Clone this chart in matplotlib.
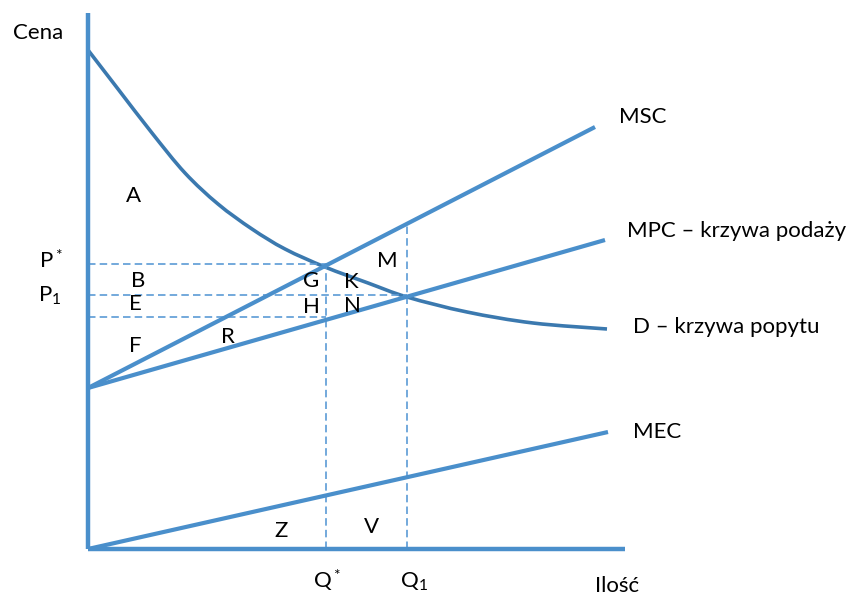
import matplotlib.pyplot as plt
from matplotlib.path import Path
from matplotlib.patches import PathPatch

plt.rcParams['font.family'] = ['Lato', 'DejaVu Sans']
plt.rcParams['mathtext.fontset'] = 'custom'
plt.rcParams['mathtext.rm'] = 'Lato'
plt.rcParams['mathtext.it'] = 'Lato'
plt.rcParams['mathtext.default'] = 'regular'

# quantity / price units
q_max = 537
p_max = 536

msc_q = [0, 507]
msc_p = [161, 422]
mpc_q = [0, 517]
mpc_p = [161, 309]
mec_q = [0, 520]
mec_p = [0, 117]

# demand curve D
d_q = [0, 30, 64, 97, 130, 164, 197, 237, 280, 319, 379, 445, 519]
d_p = [499, 460, 416, 376, 345, 320, 300, 282, 266, 252, 237, 226, 220]

q_star = 238
q_one = 319
p_star = 285
p_one = 254
p_low = 232
msc_at_q1 = 325

axis_blue = '#4A8FCB'
curve_blue = '#3B79AF'
dash_blue = '#5B9BD5'

fig = plt.figure(figsize=(8.51, 5.98), dpi=100)
ax = fig.add_axes([0, 0, 1, 1])
ax.set_xlim(-88, 851 - 88)
ax.set_ylim(549 - 598, 549)
ax.axis('off')

dash = dict(color=dash_blue, lw=1.2, dashes=(4.5, 2.5))
ax.plot([0, q_star], [p_star, p_star], **dash)
ax.plot([0, q_one], [p_one, p_one], **dash)
ax.plot([0, q_star], [p_low, p_low], **dash)
ax.plot([q_star, q_star], [0, p_star], **dash)
ax.plot([q_one, q_one], [0, msc_at_q1], **dash)

ax.plot(msc_q, msc_p, color=axis_blue, lw=3, solid_capstyle='butt')
ax.plot(mpc_q, mpc_p, color=axis_blue, lw=3, solid_capstyle='butt')
ax.plot(mec_q, mec_p, color=axis_blue, lw=3, solid_capstyle='butt')

# smooth D through its points (bezier segments, Catmull-Rom tangents)
pts = list(zip(d_q, d_p))
verts = [pts[0]]
codes = [Path.MOVETO]
for i in range(len(pts) - 1):
    p0 = pts[i - 1] if i > 0 else pts[i]
    p1, p2 = pts[i], pts[i + 1]
    p3 = pts[i + 2] if i + 2 < len(pts) else pts[i + 1]
    c1 = (p1[0] + (p2[0] - p0[0]) / 6, p1[1] + (p2[1] - p0[1]) / 6)
    c2 = (p2[0] - (p3[0] - p1[0]) / 6, p2[1] - (p3[1] - p1[1]) / 6)
    verts += [c1, c2, p2]
    codes += [Path.CURVE4] * 3
ax.add_patch(PathPatch(Path(verts, codes), fill=False, edgecolor=curve_blue,
                       lw=2.6, capstyle='butt'))

# axes
ax.plot([0, 0], [0, p_max], color=axis_blue, lw=3.2, solid_capstyle='butt')
ax.plot([0, q_max], [0, 0], color=axis_blue, lw=3.2, solid_capstyle='butt')

fs = 16
labels = [
    ('A', 46, 347), ('B', 50, 262), ('E', 47, 239), ('F', 47, 197),
    ('R', 140, 206), ('G', 223, 262), ('K', 263, 261), ('H', 223, 236),
    ('N', 264, 237), ('M', 299, 282), ('Z', 193, 12), ('V', 284, 16),
]
for t, x, y in labels:
    ax.text(x, y, t, ha='center', va='baseline', fontsize=fs)

ax.text(-49, 281, 'P$^*$', ha='left', va='baseline', fontsize=fs)
ax.text(-50, 247, 'P$_1$', ha='left', va='baseline', fontsize=fs)
ax.text(225, -39, 'Q$^*$', ha='left', va='baseline', fontsize=fs)
ax.text(312, -39, 'Q$_1$', ha='left', va='baseline', fontsize=fs)

ax.text(-75, 510, 'Cena', ha='left', va='baseline', fontsize=fs)
ax.text(507, -43, 'Ilość', ha='left', va='baseline', fontsize=fs)
ax.text(531, 426, 'MSC', ha='left', va='baseline', fontsize=fs)
ax.text(539, 312, 'MPC – krzywa podaży', ha='left', va='baseline', fontsize=fs)
ax.text(545, 216, 'D – krzywa popytu', ha='left', va='baseline', fontsize=fs)
ax.text(545, 111, 'MEC', ha='left', va='baseline', fontsize=fs)

fig.savefig('out.png', dpi=100)
